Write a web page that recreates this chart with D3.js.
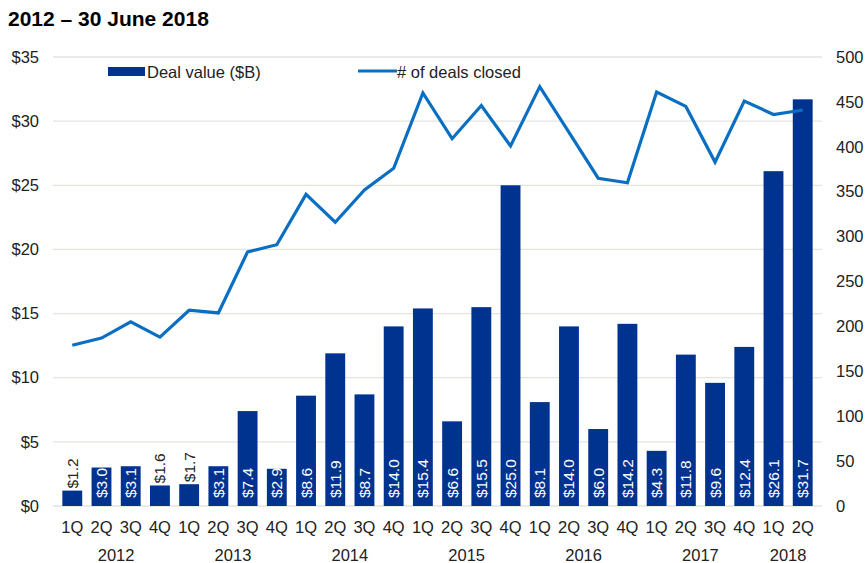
<!DOCTYPE html>
<html>
<head>
<meta charset="utf-8">
<script src="https://cdn.jsdelivr.net/npm/d3@7"></script>
<style>
  body { margin: 0; background: #fff; }
  text { font-family: "Liberation Sans", Arial, sans-serif; }
</style>
</head>
<body>
<svg id="chart"></svg>
<script>
// data
var quarters = ["1Q","2Q","3Q","4Q","1Q","2Q","3Q","4Q","1Q","2Q","3Q","4Q","1Q","2Q","3Q","4Q",
                "1Q","2Q","3Q","4Q","1Q","2Q","3Q","4Q","1Q","2Q"];
var years = ["2012","2013","2014","2015","2016","2017","2018"];
var dealValue = [1.2,3.0,3.1,1.6,1.7,3.1,7.4,2.9,8.6,11.9,8.7,14.0,15.4,6.6,15.5,25.0,
                 8.1,14.0,6.0,14.2,4.3,11.8,9.6,12.4,26.1,31.7];
var dealCount = [179,187,205,188,218,215,283,291,347,316,352,376,460,409,446,401,
                 467,416,365,360,461,445,383,451,436,441];
var leftTicks = [0,5,10,15,20,25,30,35];
var rightTicks = [0,50,100,150,200,250,300,350,400,450,500];

var width = 867, height = 563;
var barColor = "#00338f", lineColor = "#0a6fc2";

var svg = d3.select("#chart").attr("width", width).attr("height", height);

var idx = d3.range(dealValue.length);
var x = d3.scaleBand().domain(idx).range([53, 822]).padding(0.32);
var yL = d3.scaleLinear().domain([0, 35]).range([506, 57]);
var yR = d3.scaleLinear().domain([0, 500]).range([506, 57]);

// title
svg.append("text")
    .attr("x", 8).attr("y", 26)
    .attr("font-size", 21).attr("font-weight", "bold").attr("fill", "#000")
    .text("2012 \u2013 30 June 2018");

// gridlines
svg.selectAll(".grid").data(leftTicks).enter().append("line")
    .attr("class", "grid")
    .attr("x1", 53).attr("x2", 822)
    .attr("y1", function(d){ return yL(d); })
    .attr("y2", function(d){ return yL(d); })
    .attr("stroke", "#e4e3de").attr("stroke-width", 1.3);

// left axis
var axL = svg.append("g").attr("transform", "translate(39,0)")
    .call(d3.axisLeft(yL).tickValues(leftTicks).tickSize(0).tickPadding(0)
      .tickFormat(function(d){ return "$" + d; }));
axL.select(".domain").remove();
axL.selectAll("text").attr("font-size", 16.5).attr("fill", "#222")
    .attr("font-family", "Liberation Sans, Arial, sans-serif");

// right axis
var axR = svg.append("g").attr("transform", "translate(836,0)")
    .call(d3.axisRight(yR).tickValues(rightTicks).tickSize(0).tickPadding(0));
axR.select(".domain").remove();
axR.selectAll("text").attr("font-size", 16.5).attr("fill", "#222")
    .attr("font-family", "Liberation Sans, Arial, sans-serif");

// bars
svg.selectAll(".bar").data(dealValue).enter().append("rect")
    .attr("class", "bar")
    .attr("x", function(d,i){ return x(i); })
    .attr("width", x.bandwidth())
    .attr("y", function(d){ return yL(d); })
    .attr("height", function(d){ return yL(0) - yL(d); })
    .attr("fill", barColor);

// bar labels (rotated)
svg.selectAll(".blab").data(dealValue).enter().append("text")
    .attr("class", "blab")
    .attr("transform", function(d,i){
      var cx = x(i) + x.bandwidth()/2 + 5.5;
      var cy = d < 2 ? yL(d) - 2 : yL(0) - 8;
      return "translate(" + cx + "," + cy + ") rotate(-90)";
    })
    .attr("font-size", 15.5)
    .attr("fill", function(d){ return d < 2 ? "#222" : "#fff"; })
    .text(function(d){ return "$" + d.toFixed(1); });

// line
var line = d3.line()
    .x(function(d,i){ return x(i) + x.bandwidth()/2; })
    .y(function(d){ return yR(d); });
svg.append("path").datum(dealCount)
    .attr("d", line)
    .attr("fill", "none")
    .attr("stroke", lineColor)
    .attr("stroke-width", 3.2)
    .attr("stroke-linejoin", "miter");

// quarter labels
svg.selectAll(".qlab").data(quarters).enter().append("text")
    .attr("class", "qlab")
    .attr("x", function(d,i){ return x(i) + x.bandwidth()/2; })
    .attr("y", 533)
    .attr("text-anchor", "middle")
    .attr("font-size", 16.5).attr("fill", "#222")
    .text(function(d){ return d; });

// year labels centred under their quarters
svg.selectAll(".ylab").data(years).enter().append("text")
    .attr("class", "ylab")
    .attr("x", function(d,j){
      var first = j*4, last = Math.min(j*4+3, dealValue.length-1);
      return (x(first) + x(last) + x.bandwidth())/2;
    })
    .attr("y", 561)
    .attr("text-anchor", "middle")
    .attr("font-size", 16.5).attr("fill", "#222")
    .text(function(d){ return d; });

// legend
var leg = svg.append("g");
leg.append("rect").attr("x", 108).attr("y", 67).attr("width", 37).attr("height", 9).attr("fill", barColor);
leg.append("text").attr("x", 147).attr("y", 78).attr("font-size", 16.5).attr("fill", "#222").text("Deal value ($B)");
leg.append("line").attr("x1", 358).attr("x2", 397).attr("y1", 71).attr("y2", 71)
    .attr("stroke", lineColor).attr("stroke-width", 3.2);
leg.append("text").attr("x", 397).attr("y", 78).attr("font-size", 16.5).attr("fill", "#222").text("# of deals closed");
</script>
</body>
</html>
